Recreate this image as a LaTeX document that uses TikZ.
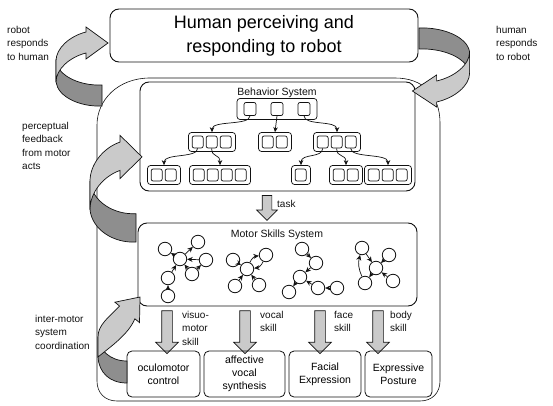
\documentclass[tikz,border=0pt]{standalone}
\usepackage{fontspec}
\setmainfont{Liberation Sans}
\usetikzlibrary{arrows.meta,positioning,calc,shapes.arrows}
\definecolor{ink}{HTML}{111111}
\definecolor{halft}{HTML}{CACACA}
\definecolor{halfd}{HTML}{8E8E8E}
\tikzset{
  sysbox/.style={draw=ink,line width=0.9pt,rounded corners=9pt},
  grpbox/.style={draw=ink,line width=0.7pt,rounded corners=3pt,minimum height=19pt,inner sep=0pt},
  cell/.style={draw=ink,line width=0.7pt,rounded corners=2pt,minimum width=11pt,minimum height=12pt,inner sep=0pt},
  tree/.style={-{Stealth[length=5pt,width=4.5pt]},line width=0.7pt,ink},
  skn/.style={circle,draw=ink,line width=0.8pt,minimum size=13.5pt,inner sep=0pt},
  edge/.style={-{Stealth[length=5.5pt,width=5pt]},line width=0.7pt,ink},
  blockarr/.style={single arrow,draw=ink,fill=halft,line width=0.7pt,rotate=-90,inner sep=5pt,single arrow head extend=6pt},
  outbox/.style={draw=ink,line width=0.8pt,rounded corners=5pt,minimum height=46pt,align=center,font=\fontsize{10.5}{13}\selectfont,inner sep=1pt},
  lab/.style={font=\fontsize{10}{13.5}\selectfont,align=left,inner sep=0pt,text=ink},
  head/.style={font=\fontsize{10.5}{12}\selectfont,inner sep=0pt,text=ink},
  ribbon/.pic={
    \filldraw[fill=halfd,draw=ink,line width=0.7pt] (0,0) .. controls (-22,-1) and (-44,9) .. (-46,24) -- (-46,45) .. controls (-44,30) and (-22,20) .. (0,21) -- cycle;
    \filldraw[fill=halft,draw=ink,line width=0.7pt] (-46,24) .. controls (-46,37) and (-32,49) .. (-16,53) -- (-16,47) -- (6,63) -- (-16,79) -- (-16,74) .. controls (-32,70) and (-46,58) .. (-46,45) -- cycle;
  }
}
% a framed row of small behavior cells
\newcommand{\grp}[4]{%
  \node[grpbox,minimum width=#4*14+5] (#1) at (#2,#3) {};
  \foreach \k in {1,...,#4}
    \node[cell] (#1-\k) at ($(#1.west)+(\k*14-4.5,0)$) {};
}

\begin{document}
\begin{tikzpicture}[x=1pt,y=1pt]
\useasboundingbox (0,0) rectangle (553,405);
% human at the top
\node[sysbox,minimum width=308,minimum height=53,align=center,font=\fontsize{18}{24}\selectfont] (human) at (264,369.5) {Human perceiving and\\responding to robot};
% robot outline
\draw[line width=0.6pt,ink] (150,327) -- (395,327) .. controls (423,327) and (440,310) .. (440,282) -- (440,24) .. controls (440,12) and (432,4) .. (420,4) -- (117,4) .. controls (105,4) and (97,12) .. (97,24) -- (97,280) .. controls (97,305) and (118,327) .. (150,327) -- cycle;
% behavior system
\node[sysbox,minimum width=275,minimum height=109] (beh) at (277.5,268.5) {};
\node[head] (behT) at (277,312) {Behavior System};
\node[grpbox,minimum width=80,minimum height=21] (top) at (277,296) {};
\foreach \k/\dx in {1/-27,2/0,3/27}
  \node[cell,minimum width=12pt,minimum height=13pt] (top-\k) at ($(top)+(\dx,0)$) {};
\grp{la}{212}{263}{3}
\grp{ma}{275}{263}{2}
\grp{ra}{337}{263}{3}
\grp{lb}{164}{230}{2}
\grp{lc}{220}{230}{4}
\grp{rb}{301}{230}{1}
\grp{rc}{346}{230}{2}
\grp{rd}{388}{230}{3}
\draw[tree] (top-1.south) .. controls +(0,-10) and +(0,12) .. (la.north);
\draw[tree] (top-2.south) -- (ma.north);
\draw[tree] (top-3.south) .. controls +(0,-10) and +(0,12) .. (ra.north);
\draw[tree] (la-1.south) .. controls +(0,-10) and +(0,12) .. (lb.north);
\draw[tree] (la-2.south) .. controls +(0,-10) and +(0,12) .. (lc.north);
\draw[tree] (ra-1.south) .. controls +(0,-10) and +(0,12) .. (rb.north);
\draw[tree] (ra-2.south) .. controls +(0,-10) and +(0,12) .. (rc.north);
\draw[tree] (ra-3.south) .. controls +(0,-10) and +(0,12) .. (rd.north);
% task
\node[blockarr,minimum height=25,inner sep=4.5pt,single arrow head extend=5.5pt] (task) at (267,199.5) {};
\node[lab,anchor=west] (taskT) at (277,201) {task};
% motor skills system
\node[sysbox,minimum width=279,minimum height=83] (mot) at (277.5,140.5) {};
\node[head] (motT) at (277,170) {Motor Skills System};
\node[skn] (g1a) at (165,156) {};
\node[skn] (g1b) at (198,163) {};
\node[skn] (g1c) at (180,146) {};
\node[skn] (g1d) at (206,145) {};
\node[skn] (g1e) at (192,131) {};
\node[skn] (g1f) at (168,127) {};
\node[skn] (g1g) at (168,109) {};
\draw[edge] (g1c) -- (g1a);
\draw[edge] (g1c) -- (g1b);
\draw[edge] (g1d) -- (g1c);
\draw[edge] (g1e) -- (g1d);
\draw[edge] (g1e) -- (g1c);
\draw[edge] (g1f) -- (g1c);
\draw[edge] (g1g) -- (g1f);
\node[skn] (g2a) at (233,145) {};
\node[skn] (g2b) at (266,150) {};
\node[skn] (g2c) at (247,136) {};
\node[skn] (g2d) at (235,119) {};
\node[skn] (g2e) at (259,120) {};
\draw[edge] (g2a) -- (g2c);
\draw[edge] (g2c) to[bend left=30] (g2b);
\draw[edge] (g2b) to[bend left=30] (g2c);
\draw[edge] (g2d) -- (g2c);
\draw[edge] (g2e) -- (g2c);
\node[skn] (g3a) at (302,156) {};
\node[skn] (g3b) at (316,142) {};
\node[skn] (g3c) at (300,128) {};
\node[skn] (g3d) at (289,113) {};
\node[skn] (g3e) at (318,117) {};
\node[skn] (g3f) at (337,117) {};
\draw[edge] (g3a) -- (g3b);
\draw[edge] (g3b) -- (g3c);
\draw[edge] (g3c) -- (g3d);
\draw[edge] (g3e) -- (g3c);
\draw[edge] (g3f) -- (g3e);
\node[skn] (g4a) at (362,157) {};
\node[skn] (g4b) at (389,150) {};
\node[skn] (g4c) at (376,137) {};
\node[skn] (g4d) at (365,122) {};
\node[skn] (g4e) at (393,124) {};
\draw[edge] (g4a) -- (g4c);
\draw[edge] (g4d) to[bend left=20] (g4a);
\draw[edge] (g4b) -- (g4c);
\draw[edge] (g4c) -- (g4d);
\draw[edge] (g4e) -- (g4c);
% skills down to the actuators
\node[blockarr,minimum height=43] (sk1) at (167,75.5) {};
\node[blockarr,minimum height=43] (sk2) at (245,75.5) {};
\node[blockarr,minimum height=43] (sk3) at (320,75.5) {};
\node[blockarr,minimum height=43] (sk4) at (378,75.5) {};
\node[lab,anchor=north west] (sk1T) at (182,94) {visuo-\\motor\\skill};
\node[lab,anchor=north west] (sk2T) at (260,94) {vocal\\skill};
\node[lab,anchor=north west] (sk3T) at (334,94) {face\\skill};
\node[lab,anchor=north west] (sk4T) at (390,94) {body\\skill};
\node[outbox,minimum width=73] (ocu) at (163.5,31) {oculomotor\\control};
\node[outbox,minimum width=81] (voc) at (244.5,31) {affective\\vocal\\synthesis};
\node[outbox,minimum width=72] (fac) at (325,31) {Facial\\Expression};
\node[outbox,minimum width=67] (pos) at (398.5,31) {Expressive\\Posture};
% loops
\pic (rl) at (102,299) {ribbon};
\pic[rotate=180,xscale=1.1] (rr) at (419,377) {ribbon};
\pic[yscale=1.35] (pf) at (136,163) {ribbon};
\filldraw[fill=halfd,draw=ink,line width=0.7pt] (127,22) .. controls (110,22) and (99,32) .. (98,48) -- (98,68) .. controls (99,55) and (110,44) .. (127,44) -- cycle;
\filldraw[fill=halft,draw=ink,line width=0.7pt] (98,48) .. controls (110,58) and (128,70) .. (134.9,86.2) -- (139.5,82.4) -- (140,108) -- (114.9,102.8) -- (119.5,99) .. controls (108,87) and (98,80) .. (98,68) -- cycle;
\node[lab,anchor=north west] (rlT) at (7,379) {robot\\responds\\to human};
\node[lab,anchor=north west] (rrT) at (496,379) {human\\responds\\to robot};
\node[lab,anchor=north west] (pfT) at (22,283) {perceptual\\feedback\\from motor\\acts};
\node[lab,anchor=north west] (imT) at (35,90) {inter-motor\\system\\coordination};
\end{tikzpicture}
\end{document}
